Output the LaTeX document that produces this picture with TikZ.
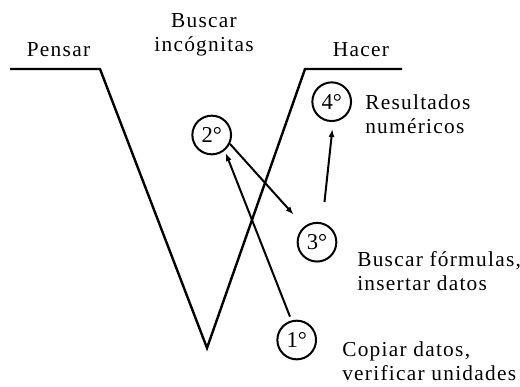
\documentclass[tikz,border=0pt]{standalone}
\usepackage{fontspec}
\setmainfont[LetterSpace=6]{Liberation Serif}
\newfontfamily\circfont{Liberation Serif}
\usetikzlibrary{arrows.meta}
\tikzset{
  lbl/.style={inner sep=0pt, font=\fontsize{16}{18}\selectfont},
  stepcirc/.style={circle, draw, line width=1.5pt, minimum size=29pt, inner sep=0pt, font=\circfont\fontsize{17}{18}\selectfont},
  arr/.style={line width=1.5pt, -{Latex[length=6pt,width=4.5pt]}},
  vline/.style={line width=1.8pt}
}
\begin{document}
\begin{tikzpicture}[x=0.75pt,y=-0.75pt]
\useasboundingbox (0,0) rectangle (520,386);
% V shape
\coordinate (l0) at (10,69);
\coordinate (l1) at (100,69);
\coordinate (vb) at (207,348);
\coordinate (r1) at (305,69);
\coordinate (r0) at (402,69);
\draw[vline, line join=miter] (l0) -- (l1) -- (vb) -- (r1) -- (r0);
% titles
\node[lbl, anchor=base] (pensar) at (58.5,56) {Pensar};
\node[lbl, anchor=base, align=center] (buscar) at (204,51) {Buscar\\incógnitas};
\node[lbl, anchor=base] (hacer) at (361,56) {Hacer};
% circles
\node[stepcirc] (c1) at (296.7,340) {1°};
\node[stepcirc] (c2) at (211.7,135) {2°};
\node[stepcirc] (c3) at (317,242.2) {3°};
\node[stepcirc] (c4) at (331.7,101.7) {4°};
% labels
\node[lbl, anchor=base west, align=left] (t4) at (365,133) {Resultados\\numéricos};
\node[lbl, anchor=base west, align=left] (t3) at (357,290) {Buscar fórmulas,\\insertar datos};
\node[lbl, anchor=base west, align=left] (t1) at (342,380) {Copiar datos,\\verificar unidades};
% arrows
\draw[arr, shorten <=3pt, shorten >=2pt] (c1.105.6) -- (c2.-50.7);
\draw[arr, shorten >=12pt] (c2.-26.6) -- (c3.129.4);
\draw[arr, shorten <=15.5pt, shorten >=5.3pt] (c3.75.7) -- (c4.-86.8);
\end{tikzpicture}
\end{document}
